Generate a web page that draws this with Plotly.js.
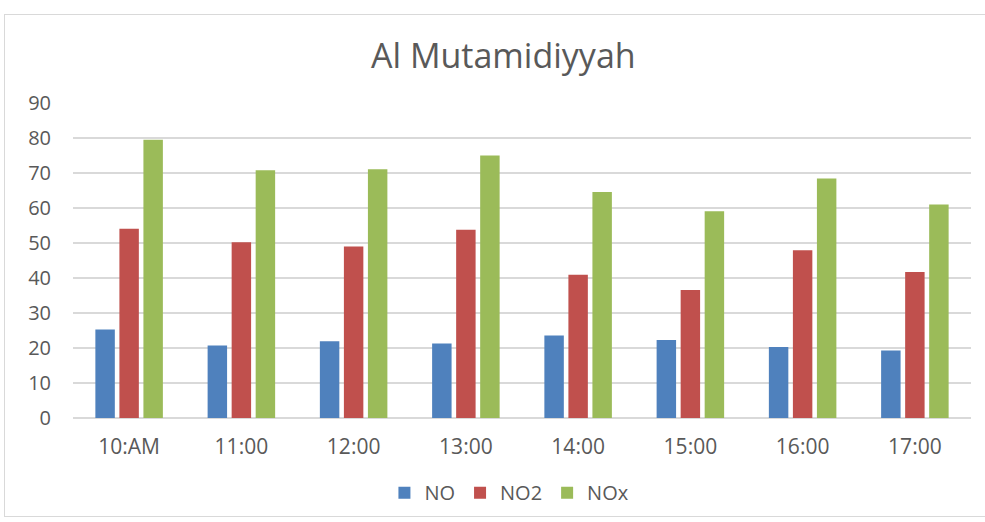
<!DOCTYPE html>
<html>
<head>
<meta charset="utf-8">
<script src="https://cdn.plot.ly/plotly-3.0.1.min.js"></script>
<style>
  html, body { margin: 0; padding: 0; background: #fff; }
  #frame { position: absolute; left: 4px; top: 14px; width: 990px; height: 503px; border: 1.5px solid #d9d9d9; box-sizing: border-box; }
  #chart { position: absolute; left: 0; top: 0; width: 985px; height: 522px; }
</style>
</head>
<body>
<div id="frame"></div>
<div id="chart"></div>
<script>
const categories = ["10:AM", "11:00", "12:00", "13:00", "14:00", "15:00", "16:00", "17:00"];
const noValues  = [25.3, 20.7, 21.9, 21.3, 23.6, 22.3, 20.3, 19.3];
const no2Values = [54.1, 50.2, 49.0, 53.8, 40.9, 36.6, 47.9, 41.7];
const noxValues = [79.5, 70.8, 71.1, 75.0, 64.6, 59.1, 68.4, 61.0];
const yTicks = [0, 10, 20, 30, 40, 50, 60, 70, 80, 90];

const fontFam = "Open Sans, Noto Sans, sans-serif";
const traces = [
  { type: "bar", name: "NO",  x: categories, y: noValues,  marker: { color: "#4F81BD" } },
  { type: "bar", name: "NO2", x: categories, y: no2Values, marker: { color: "#C0504D" } },
  { type: "bar", name: "NOx", x: categories, y: noxValues, marker: { color: "#9BBB59" } }
];

const layout = {
  width: 985, height: 522,
  paper_bgcolor: "rgba(0,0,0,0)", plot_bgcolor: "rgba(0,0,0,0)",
  margin: { l: 73, r: 14, t: 103, b: 104, pad: 0, autoexpand: false },
  barmode: "group", bargap: 0.358, bargroupgap: 0.19,
  title: { text: "Al Mutamidiyyah", x: 0.511, xanchor: "center", y: 0.893, yanchor: "middle",
           font: { family: fontFam, size: 34, color: "#595959" } },
  font: { family: fontFam, color: "#595959" },
  xaxis: { type: "category", tickfont: { size: 21, color: "#595959" }, showgrid: false,
           showline: false, ticks: "", ticklen: 0, automargin: false, ticklabelstandoff: 14 },
  yaxis: { range: [0, 90], tickvals: yTicks, ticktext: yTicks.map(String),
           tickfont: { size: 20, color: "#595959" }, showgrid: true, gridcolor: "#d9d9d9", gridwidth: 1.5,
           zeroline: true, zerolinecolor: "#d9d9d9", zerolinewidth: 1.5, showline: false, ticks: "",
           automargin: false, ticklabelstandoff: 21 },
  legend: { orientation: "h", x: 0.486, xanchor: "center", y: -0.237, yanchor: "middle",
            font: { size: 20, color: "#595959" }, itemwidth: 30, traceorder: "normal" },
  showlegend: true
};

Plotly.newPlot("chart", traces, layout, { displayModeBar: false, staticPlot: true });
</script>
</body>
</html>
